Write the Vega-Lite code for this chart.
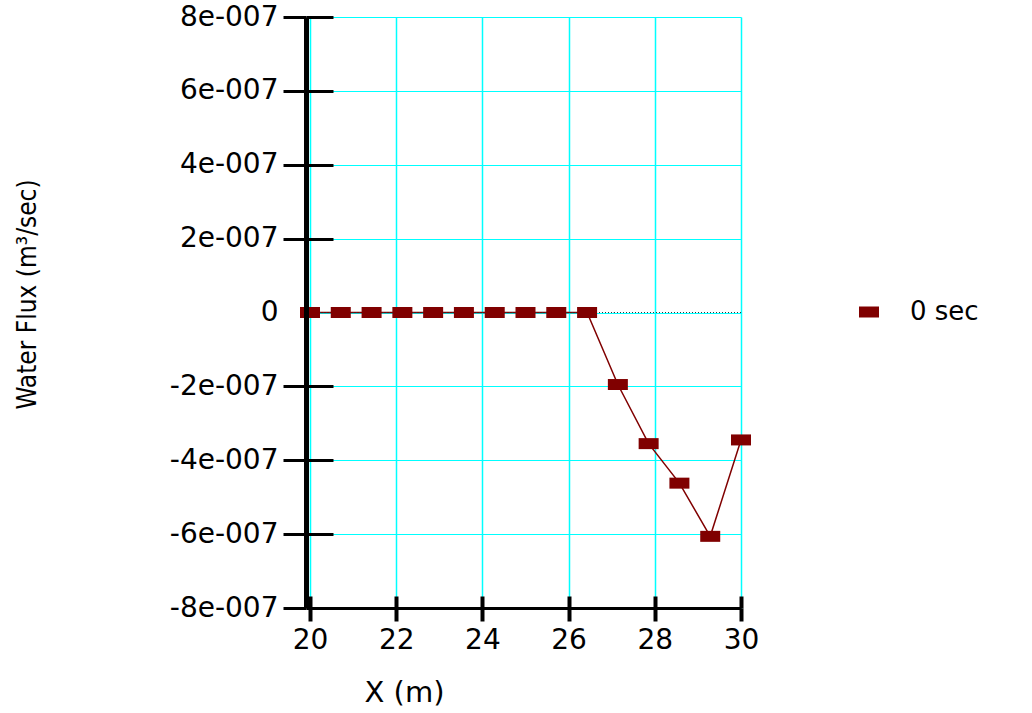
{
  "$schema": "https://vega.github.io/schema/vega-lite/v6.json",
  "autosize": {"type": "none"},
  "padding": {"left": 310, "top": 17, "right": 291, "bottom": 105},
  "width": 431,
  "height": 591,
  "background": "white",
  "config": {"view": {"stroke": null}},
  "data": {
    "values": [
      {"x": 20, "flux": 0, "series": "0 sec"},
      {"x": 20.714, "flux": 0, "series": "0 sec"},
      {"x": 21.429, "flux": 0, "series": "0 sec"},
      {"x": 22.143, "flux": 0, "series": "0 sec"},
      {"x": 22.857, "flux": 0, "series": "0 sec"},
      {"x": 23.571, "flux": 0, "series": "0 sec"},
      {"x": 24.286, "flux": 0, "series": "0 sec"},
      {"x": 25, "flux": 0, "series": "0 sec"},
      {"x": 25.714, "flux": 0, "series": "0 sec"},
      {"x": 26.429, "flux": 0, "series": "0 sec"},
      {"x": 27.143, "flux": -1.95e-7, "series": "0 sec"},
      {"x": 27.857, "flux": -3.55e-7, "series": "0 sec"},
      {"x": 28.571, "flux": -4.62e-7, "series": "0 sec"},
      {"x": 29.286, "flux": -6.06e-7, "series": "0 sec"},
      {"x": 30, "flux": -3.45e-7, "series": "0 sec"}
    ]
  },
  "resolve": {"axis": {"x": "independent", "y": "independent"}},
  "layer": [
    {
      "mark": {"type": "line", "color": "#800000", "strokeWidth": 1.5},
      "encoding": {
        "x": {
          "field": "x", "type": "quantitative",
          "scale": {"domain": [20, 30], "nice": false, "zero": false},
          "axis": {
            "orient": "bottom",
            "values": [20, 22, 24, 26, 28, 30],
            "grid": true, "gridColor": "#00ffff", "gridWidth": 1.5, "gridOpacity": 1,
            "domain": false, "labels": false, "title": null,
            "ticks": true, "tickSize": -12, "tickWidth": 4, "tickColor": "black",
            "zindex": 0
          }
        },
        "y": {
          "field": "flux", "type": "quantitative",
          "scale": {"domain": [-8e-7, 8e-7], "nice": false, "zero": false},
          "axis": {
            "orient": "left",
            "values": [-8e-7, -6e-7, -4e-7, -2e-7, 0, 2e-7, 4e-7, 6e-7, 8e-7],
            "grid": true, "gridColor": "#00ffff", "gridWidth": 1.2, "gridOpacity": 1,
            "domain": false, "labels": false, "title": null,
            "ticks": true, "tickSize": -27, "tickWidth": 3, "tickColor": "black",
            "tickOpacity": {"condition": {"test": "datum.value === 0", "value": 0}, "value": 1},
            "offset": 4,
            "zindex": 0
          }
        }
      }
    },
    {
      "mark": {"type": "rule", "color": "#333333", "strokeWidth": 1, "strokeDash": [1, 2]},
      "encoding": {
        "y": {"datum": 0, "type": "quantitative", "axis": null}
      }
    },
    {
      "mark": {"type": "point", "filled": true, "size": 400, "opacity": 1},
      "encoding": {
        "x": {
          "field": "x", "type": "quantitative",
          "axis": {
            "orient": "bottom",
            "values": [20, 22, 24, 26, 28, 30],
            "grid": false,
            "domain": true, "domainColor": "black", "domainWidth": 3,
            "ticks": true, "tickSize": 13, "tickWidth": 4, "tickColor": "black",
            "labels": true, "labelFlush": false, "labelOverlap": false,
            "labelFont": "DejaVu Sans", "labelFontSize": 28, "labelColor": "black",
            "labelPadding": 5, "format": "d",
            "title": "X (m)", "titleFont": "DejaVu Sans", "titleFontSize": 29, "titleFontWeight": "normal",
            "titleColor": "black", "titleX": 94, "titleY": 84, "titleAlign": "center", "titleBaseline": "middle",
            "zindex": 1
          }
        },
        "y": {
          "field": "flux", "type": "quantitative",
          "axis": {
            "orient": "left",
            "values": [-8e-7, -6e-7, -4e-7, -2e-7, 0, 2e-7, 4e-7, 6e-7, 8e-7],
            "grid": false,
            "domain": true, "domainColor": "black", "domainWidth": 5,
            "ticks": true, "tickSize": 23, "tickWidth": 3, "tickColor": "black",
            "tickOpacity": {"condition": {"test": "datum.value === 0", "value": 0}, "value": 1},
            "offset": 4,
            "labels": true, "labelFlush": false, "labelOverlap": false,
            "labelFont": "DejaVu Sans", "labelFontSize": 28, "labelColor": "black",
            "labelPadding": 5,
            "labelExpr": "datum.value == 0 ? '0' : (datum.value < 0 ? '-' : '') + round(abs(datum.value) * 1e7) + 'e-007'",
            "title": "Water Flux (m³/sec)",
            "titleFont": "Liberation Sans Narrow, DejaVu Sans Condensed, DejaVu Sans", "titleFontSize": 26,
            "titleFontWeight": "normal", "titleColor": "black",
            "titleAngle": -90, "titleX": -279, "titleY": 277, "titleAlign": "center", "titleBaseline": "middle",
            "zindex": 1
          }
        },
        "color": {
          "field": "series", "type": "nominal",
          "scale": {"range": ["#800000"]},
          "legend": {
            "title": null, "orient": "none", "legendX": 546, "legendY": 282, "padding": 0,
            "symbolSize": 400, "symbolStrokeWidth": 0, "symbolType": "M-1,-0.35H1V0.35H-1Z",
            "labelFont": "DejaVu Sans", "labelFontSize": 26, "labelColor": "black", "labelOffset": 28
          }
        },
        "shape": {
          "field": "series", "type": "nominal",
          "scale": {"range": ["M-1,-0.55H1V0.55H-1Z"]},
          "legend": null
        }
      }
    }
  ]
}
